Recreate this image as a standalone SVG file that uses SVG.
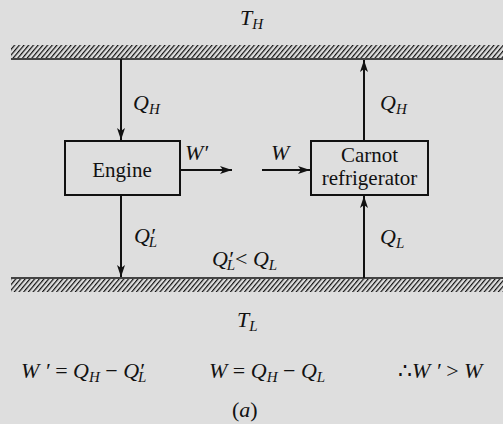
<svg xmlns="http://www.w3.org/2000/svg" width="503" height="424" viewBox="0 0 503 424">
<style>
.m{font-family:"Liberation Serif","Times New Roman",serif;font-style:italic;font-size:22px;fill:#111}
.s{font-size:15px}
.r{font-family:"Liberation Serif","Times New Roman",serif;font-size:21px;fill:#111}
.ln{stroke:#111;stroke-width:2;fill:none}
.box{fill:none;stroke:#111;stroke-width:2}
</style>
<defs>
<pattern id="hatch" patternUnits="userSpaceOnUse" width="3.6" height="4" patternTransform="rotate(40)">
<rect width="3.6" height="4" fill="#dedede"/>
<line x1="0" y1="0" x2="0" y2="4" stroke="#111" stroke-width="2.4"/>
</pattern>
<marker id="ah" markerWidth="12" markerHeight="8" refX="12" refY="4" orient="auto" markerUnits="userSpaceOnUse">
<path d="M0,0 L12,4 L0,8 L3,4 Z" fill="#111"/>
</marker>
</defs>
<rect width="503" height="424" fill="#dedede"/>
<g id="hot-reservoir">
<rect x="11" y="45" width="492" height="13" fill="url(#hatch)"/>
<line x1="11" y1="59" x2="503" y2="59" stroke="#111" stroke-width="1.5"/>
<text class="m" x="240" y="25">T<tspan class="s" dy="4">H</tspan></text>
</g>
<g id="cold-reservoir">
<line x1="11" y1="278" x2="503" y2="278" stroke="#111" stroke-width="1.5"/>
<rect x="11" y="279" width="492" height="13" fill="url(#hatch)"/>
<text class="m" x="237" y="327">T<tspan class="s" dy="4">L</tspan></text>
</g>
<g id="engine">
<rect class="box" x="65" y="141" width="115" height="54"/>
<text class="r" x="122" y="177" text-anchor="middle">Engine</text>
</g>
<g id="refrigerator">
<rect class="box" x="311" y="141" width="117" height="54"/>
<text class="r" x="369.5" y="162" text-anchor="middle">Carnot</text>
<text class="r" x="369.5" y="185" text-anchor="middle">refrigerator</text>
</g>
<g id="connectors">
<line class="ln" x1="121" y1="59" x2="121" y2="140" marker-end="url(#ah)"/>
<line class="ln" x1="121" y1="195" x2="121" y2="277" marker-end="url(#ah)"/>
<line class="ln" x1="180" y1="170" x2="232" y2="170" marker-end="url(#ah)"/>
<line class="ln" x1="262" y1="170" x2="310" y2="170" marker-end="url(#ah)"/>
<line class="ln" x1="364" y1="141" x2="364" y2="60" marker-end="url(#ah)"/>
<line class="ln" x1="364" y1="278" x2="364" y2="196" marker-end="url(#ah)"/>
</g>
<g id="labels">
<text class="m" x="133" y="110">Q<tspan class="s" dy="4">H</tspan></text>
<text class="m" x="380" y="110">Q<tspan class="s" dy="4">H</tspan></text>
<text class="m" x="134" y="243">Q′<tspan class="s" dx="-6" dy="4">L</tspan></text>
<text class="m" x="380" y="244">Q<tspan class="s" dy="4">L</tspan></text>
<text class="m" x="212" y="266">Q′<tspan class="s" dx="-6" dy="4">L</tspan><tspan dy="-4" font-style="normal">&lt;</tspan> Q<tspan class="s" dy="4">L</tspan></text>
<text class="m" x="185" y="160">W′</text>
<text class="m" x="271" y="160">W</text>
<text class="m" x="21" y="378">W ′<tspan font-style="normal"> = </tspan>Q<tspan class="s" dy="4">H</tspan><tspan dy="-4" font-style="normal"> − </tspan>Q′<tspan class="s" dx="-6" dy="4">L</tspan></text>
<text class="m" x="209" y="378">W<tspan font-style="normal"> = </tspan>Q<tspan class="s" dy="4">H</tspan><tspan dy="-4" font-style="normal"> − </tspan>Q<tspan class="s" dy="4">L</tspan></text>
<text class="m" x="398" y="378"><tspan font-style="normal">∴</tspan>W ′<tspan font-style="normal"> &gt; </tspan>W</text>
<text class="m" x="232" y="417"><tspan font-style="normal">(</tspan>a<tspan font-style="normal">)</tspan></text>
</g>
</svg>
